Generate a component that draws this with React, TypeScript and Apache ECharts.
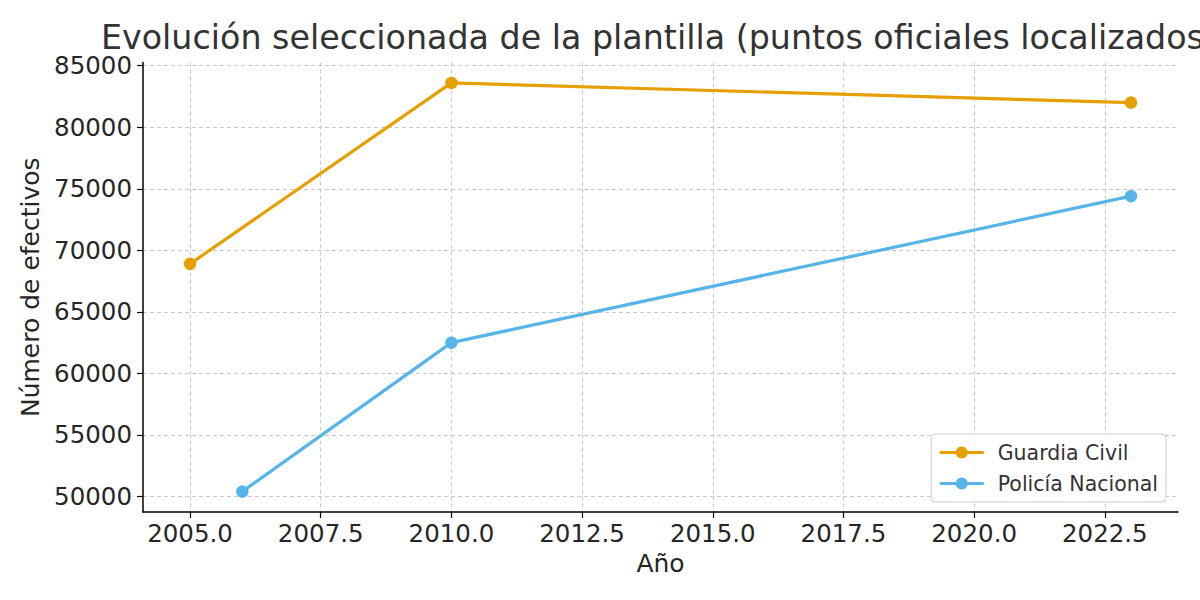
import React, { useEffect, useRef } from "react";
import * as echarts from "echarts";

const titleText = "Evolución seleccionada de la plantilla (puntos oficiales localizados)";
const seriesNames = ["Guardia Civil", "Policía Nacional"];
const gcYears = [2005, 2010, 2023];
const gcValues = [68900, 83600, 82000];
const pnYears = [2006, 2010, 2023];
const pnValues = [50400, 62500, 74400];
const xTicks = [2005, 2007.5, 2010, 2012.5, 2015, 2017.5, 2020, 2022.5];
const yTicks = [50000, 55000, 60000, 65000, 70000, 75000, 80000, 85000];
const colors = ["#E69F00", "#56B4E9"];

const FONT = "DejaVu Sans";

export default function App() {
  const ref = useRef<HTMLDivElement>(null);
  useEffect(() => {
    if (!ref.current) return;
    const chart = echarts.init(ref.current, undefined, { renderer: "svg" });
    const gridLine = { show: true, lineStyle: { color: "#c8c8c8", width: 1, type: [4, 3] as any } };
    const option: any = {
      animation: false,
      backgroundColor: "#ffffff",
      title: {
        text: titleText,
        left: 96,
        top: 16,
        textStyle: { fontFamily: FONT, fontSize: 33.3, fontWeight: "normal", color: "#333333" },
      },
      grid: { left: 143, right: 22, top: 62.5, bottom: 88, outerBoundsMode: "none" },
      legend: {
        orient: "vertical",
        right: 34,
        bottom: 98,
        itemWidth: 44,
        itemHeight: 15,
        itemGap: 10,
        padding: [8, 8, 8, 7],
        backgroundColor: "rgba(255,255,255,0.85)",
        borderColor: "#cccccc",
        borderWidth: 1,
        borderRadius: 4,
        lineStyle: { width: 3 },
        textStyle: { fontFamily: FONT, fontSize: 20.5, color: "#333333", padding: [0, 0, 0, 9] },
        data: seriesNames,
      },
      xAxis: {
        type: "value",
        min: 2004.1,
        max: 2023.9,
        name: "Año",
        nameLocation: "middle",
        nameGap: 39,
        nameTextStyle: { fontFamily: FONT, fontSize: 25, color: "#262626" },
        axisLine: { show: true, onZero: false, lineStyle: { color: "#000", width: 1.5 } },
        axisTick: { show: true, length: 6, customValues: xTicks, lineStyle: { color: "#000", width: 1.2 } },
        axisLabel: {
          customValues: xTicks,
          margin: 9,
          fontFamily: FONT,
          fontSize: 24.5,
          color: "#262626",
          formatter: (v: number) => v.toFixed(1),
        },
        splitLine: gridLine,
      },
      yAxis: {
        type: "value",
        min: 48740,
        max: 85260,
        name: "Número de efectivos",
        nameLocation: "middle",
        nameGap: 98,
        nameTextStyle: { fontFamily: FONT, fontSize: 25, color: "#262626" },
        axisLine: { show: true, onZero: false, lineStyle: { color: "#000", width: 1.5 } },
        axisTick: { show: true, length: 6, customValues: yTicks, lineStyle: { color: "#000", width: 1.2 } },
        axisLabel: {
          customValues: yTicks,
          margin: 11,
          fontFamily: FONT,
          fontSize: 24.5,
          color: "#262626",
          formatter: (v: number) => String(v),
        },
        splitLine: gridLine,
      },
      series: [
        {
          name: seriesNames[0],
          type: "line",
          data: gcYears.map((y, i) => [y, gcValues[i]]),
          symbol: "circle",
          symbolSize: 12.5,
          lineStyle: { color: colors[0], width: 3.2 },
          itemStyle: { color: colors[0] },
        },
        {
          name: seriesNames[1],
          type: "line",
          data: pnYears.map((y, i) => [y, pnValues[i]]),
          symbol: "circle",
          symbolSize: 12.5,
          lineStyle: { color: colors[1], width: 3.2 },
          itemStyle: { color: colors[1] },
        },
      ],
    };
    chart.setOption(option);
    return () => chart.dispose();
  }, []);
  return (
    <div
      ref={ref}
      style={{ position: "fixed", left: 0, top: 0, width: 1200, height: 600, background: "#fff" }}
    />
  );
}
